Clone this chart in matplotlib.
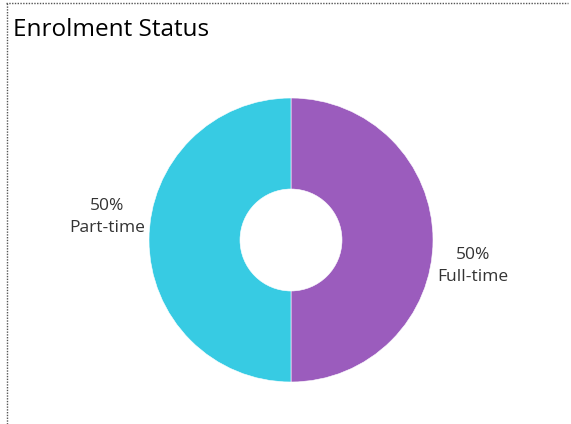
import matplotlib.pyplot as plt
from matplotlib.lines import Line2D

# Données
statuts = ['Full-time', 'Part-time']
parts = [50, 50]
couleurs = ['#9B5CBD', '#37CBE3']

fig = plt.figure(figsize=(5.71, 4.24), dpi=100)
ax = fig.add_axes([0, 0, 1, 1])

# Donut
ax.pie(parts, colors=couleurs, startangle=90, counterclock=False,
       center=(291, 424 - 240), radius=142,
       wedgeprops=dict(width=142 - 51, edgecolor='white', linewidth=0.4))

# pie() remet les limites, on les fixe après
ax.set_xlim(0, 571)
ax.set_ylim(0, 424)
ax.set_aspect('equal')
ax.axis('off')

# Cadre pointillé (haut et gauche)
fig.add_artist(Line2D([6 / 571, 568 / 571], [1 - 2.5 / 424, 1 - 2.5 / 424],
                      color='#555555', lw=1, ls=(0, (1, 1))))
fig.add_artist(Line2D([6.5 / 571, 6.5 / 571], [0, 1 - 2.5 / 424],
                      color='#555555', lw=1, ls=(0, (1, 1))))

# Titre
fig.text(13 / 571, 1 - 30 / 424, 'Enrolment Status', fontsize=17.5,
         family='Open Sans', color='#000000', va='center', ha='left')

# Étiquettes
total = sum(parts)
positions = {'Full-time': (473, 424 - 266), 'Part-time': (107, 424 - 217)}
for statut, val in zip(statuts, parts):
    x, y = positions[statut]
    ax.text(x, y, f'{val / total:.0%}\n{statut}', ha='center', va='center',
            fontsize=12.5, family='Open Sans', color='#333333', linespacing=1.5)

fig.savefig('out.png', dpi=100)
